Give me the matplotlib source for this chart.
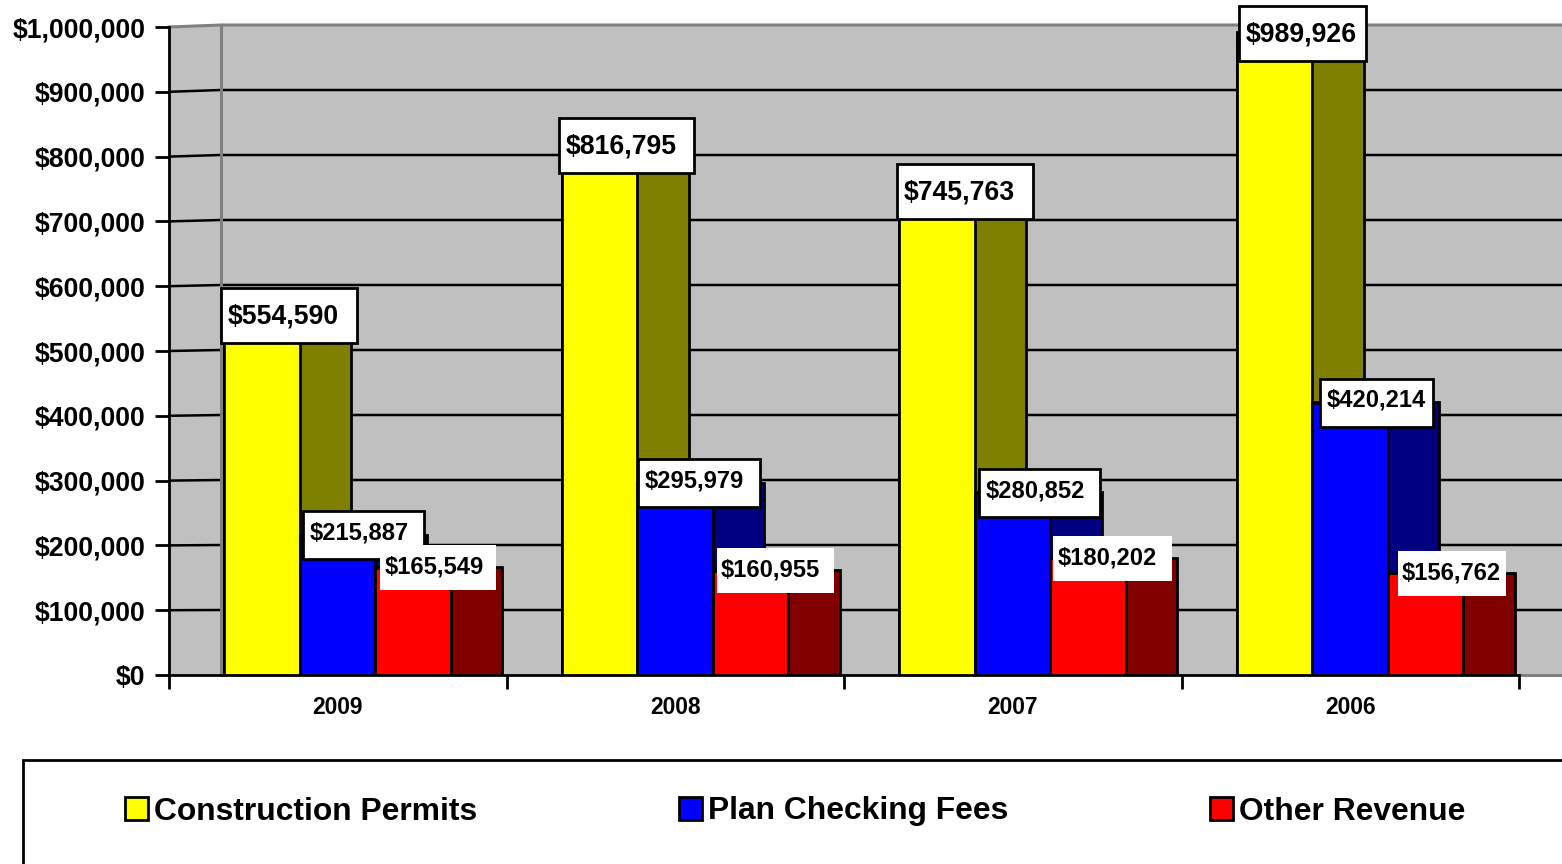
import matplotlib
matplotlib.use("Agg")
import matplotlib.pyplot as plt
from matplotlib.patches import Rectangle, Patch
from matplotlib.ticker import FuncFormatter, MultipleLocator, FixedLocator, NullFormatter

plt.rcParams['font.family'] = ['Liberation Sans', 'DejaVu Sans']
plt.rcParams['font.weight'] = 'bold'

years = ['2009', '2008', '2007', '2006']
construction_permits = [554590, 816795, 745763, 989926]
plan_checking_fees = [215887, 295979, 280852, 420214]
other_revenue = [165549, 160955, 180202, 156762]
series_names = ['Construction Permits', 'Plan Checking Fees', 'Other Revenue']

W, H = 1562, 864
AX_L, AX_T, AX_R, AX_B = 169, 27, 1562, 675
CAT = 337.5
PX = 1 / CAT
PY = 1e6 / (AX_B - AX_T)

fig = plt.figure(figsize=(W / 100, H / 100), dpi=100, facecolor='white')
ax = fig.add_axes([AX_L / W, 1 - AX_B / H, (AX_R - AX_L) / W, (AX_B - AX_T) / H])
xmax = (AX_R - AX_L) * PX
ax.set_xlim(0, xmax)
ax.set_ylim(0, 1e6)
ax.patch.set_visible(False)

# back wall geometry
depth = 52 * PX
k = 650 / 648
ticks = list(range(0, 1000001, 100000))
ax.fill_between([0, depth, xmax], 0, [1e6, 1e6 * k, 1e6 * k], color='#C0C0C0', lw=0, zorder=0, clip_on=False)
for v in ticks[1:-1]:
    ax.plot([0, depth, xmax], [v, v * k, v * k], color='black', lw=1.8, zorder=1, solid_capstyle='butt')
ax.plot([0, depth, xmax], [1e6, 1e6 * k, 1e6 * k], color='#808080', lw=2.2, zorder=1, clip_on=False)
ax.plot([depth, depth], [0, 1e6 * k], color='#808080', lw=2.2, zorder=1, clip_on=False)
ax.plot([4, xmax], [0, 0], color='#808080', lw=2.2, zorder=1, clip_on=False)

# bars
bar_w = 75.5 * PX
side = 51.5 * PX
start = 55 * PX
series = [
    (construction_permits, '#FFFF00', '#808000'),
    (plan_checking_fees, '#0000FF', '#000080'),
    (other_revenue, '#FF0000', '#800000'),
]
z = 3
for s, (vals, face, dark) in enumerate(series):
    lefts = [i + start + s * bar_w for i in range(len(vals))]
    ax.bar(lefts, [v * k for v in vals], width=bar_w + side, align='edge', color=dark,
           edgecolor='black', lw=2, zorder=z)
    ax.bar(lefts, vals, width=bar_w, align='edge', color=face,
           edgecolor='black', lw=2, zorder=z + 0.1)
    z += 1

# data labels
label_style = [
    # dx, widths, height, inset, font size, text shift, edge
    ([-3, -2.5, -2, 2], [136, 135, 136, 127], 55, 7, 19.2, -0.5, True),
    ([3, 1, 4, 8], [121, 122, 121, 113], 48, 7, 17.1, 2.5, True),
    ([5, 4, 3, 10], [116, 117, 119, 108], 45, 4.5, 17.1, 0.5, False),
]
for s, ((vals, _, _), (dxs, widths, h, inset, fs, shift, edge)) in enumerate(zip(series, label_style)):
    for i, v in enumerate(vals):
        x0 = i + start + s * bar_w + dxs[i] * PX
        ax.add_patch(Rectangle((x0, v - h / 2 * PY), widths[i] * PX, h * PY, facecolor='white',
                               edgecolor='black' if edge else 'none', lw=2 if edge else 0,
                               zorder=10 + s, clip_on=False))
        ax.text(x0 + inset * PX, v + shift * PY, f'${v:,}', ha='left', va='center', fontsize=fs,
                fontweight='bold', color='black', zorder=10.5 + s, clip_on=False)

# axes
for name in ('top', 'right'):
    ax.spines[name].set_visible(False)
for name in ('left', 'bottom'):
    ax.spines[name].set_linewidth(2)
    ax.spines[name].set_zorder(2)
ax.spines['bottom'].set_bounds(0, 4)
ax.yaxis.set_major_locator(MultipleLocator(100000))
ax.yaxis.set_major_formatter(FuncFormatter(lambda v, _: f'${v:,.0f}'))
ax.tick_params(axis='y', length=10, width=2, pad=7, labelsize=19.2)
ax.xaxis.set_major_locator(FixedLocator(range(5)))
ax.xaxis.set_major_formatter(NullFormatter())
ax.xaxis.set_minor_locator(FixedLocator([i + 0.5 for i in range(len(years))]))
ax.set_xticklabels(years, minor=True)
ax.tick_params(axis='x', which='major', length=10, width=2)
ax.tick_params(axis='x', which='minor', length=0, pad=15, labelsize=16.4)
for t in ax.get_yticklabels() + ax.get_xticklabels(minor=True):
    t.set_fontweight('bold')

# legend
fig.add_artist(Rectangle((23 / W, -0.05), 1.1, 1 - 760 / H + 0.05, transform=fig.transFigure,
                         facecolor='white', edgecolor='black', lw=2, zorder=1))
handles = [Patch(facecolor=c, edgecolor='black', lw=2) for c in ('#FFFF00', '#0000FF', '#FF0000')]
leg = fig.legend(handles, series_names, loc='center left', bbox_to_anchor=(125 / W, 1 - 811.5 / H),
                 ncol=3, frameon=False, borderpad=0, borderaxespad=0,
                 handlelength=0.72, handleheight=0.72, handletextpad=0.19, columnspacing=6.35,
                 prop={'family': ['Liberation Sans'], 'weight': 'bold', 'size': 22.9})
leg.set_zorder(5)

fig.savefig('out.png', dpi=100, facecolor='white')
